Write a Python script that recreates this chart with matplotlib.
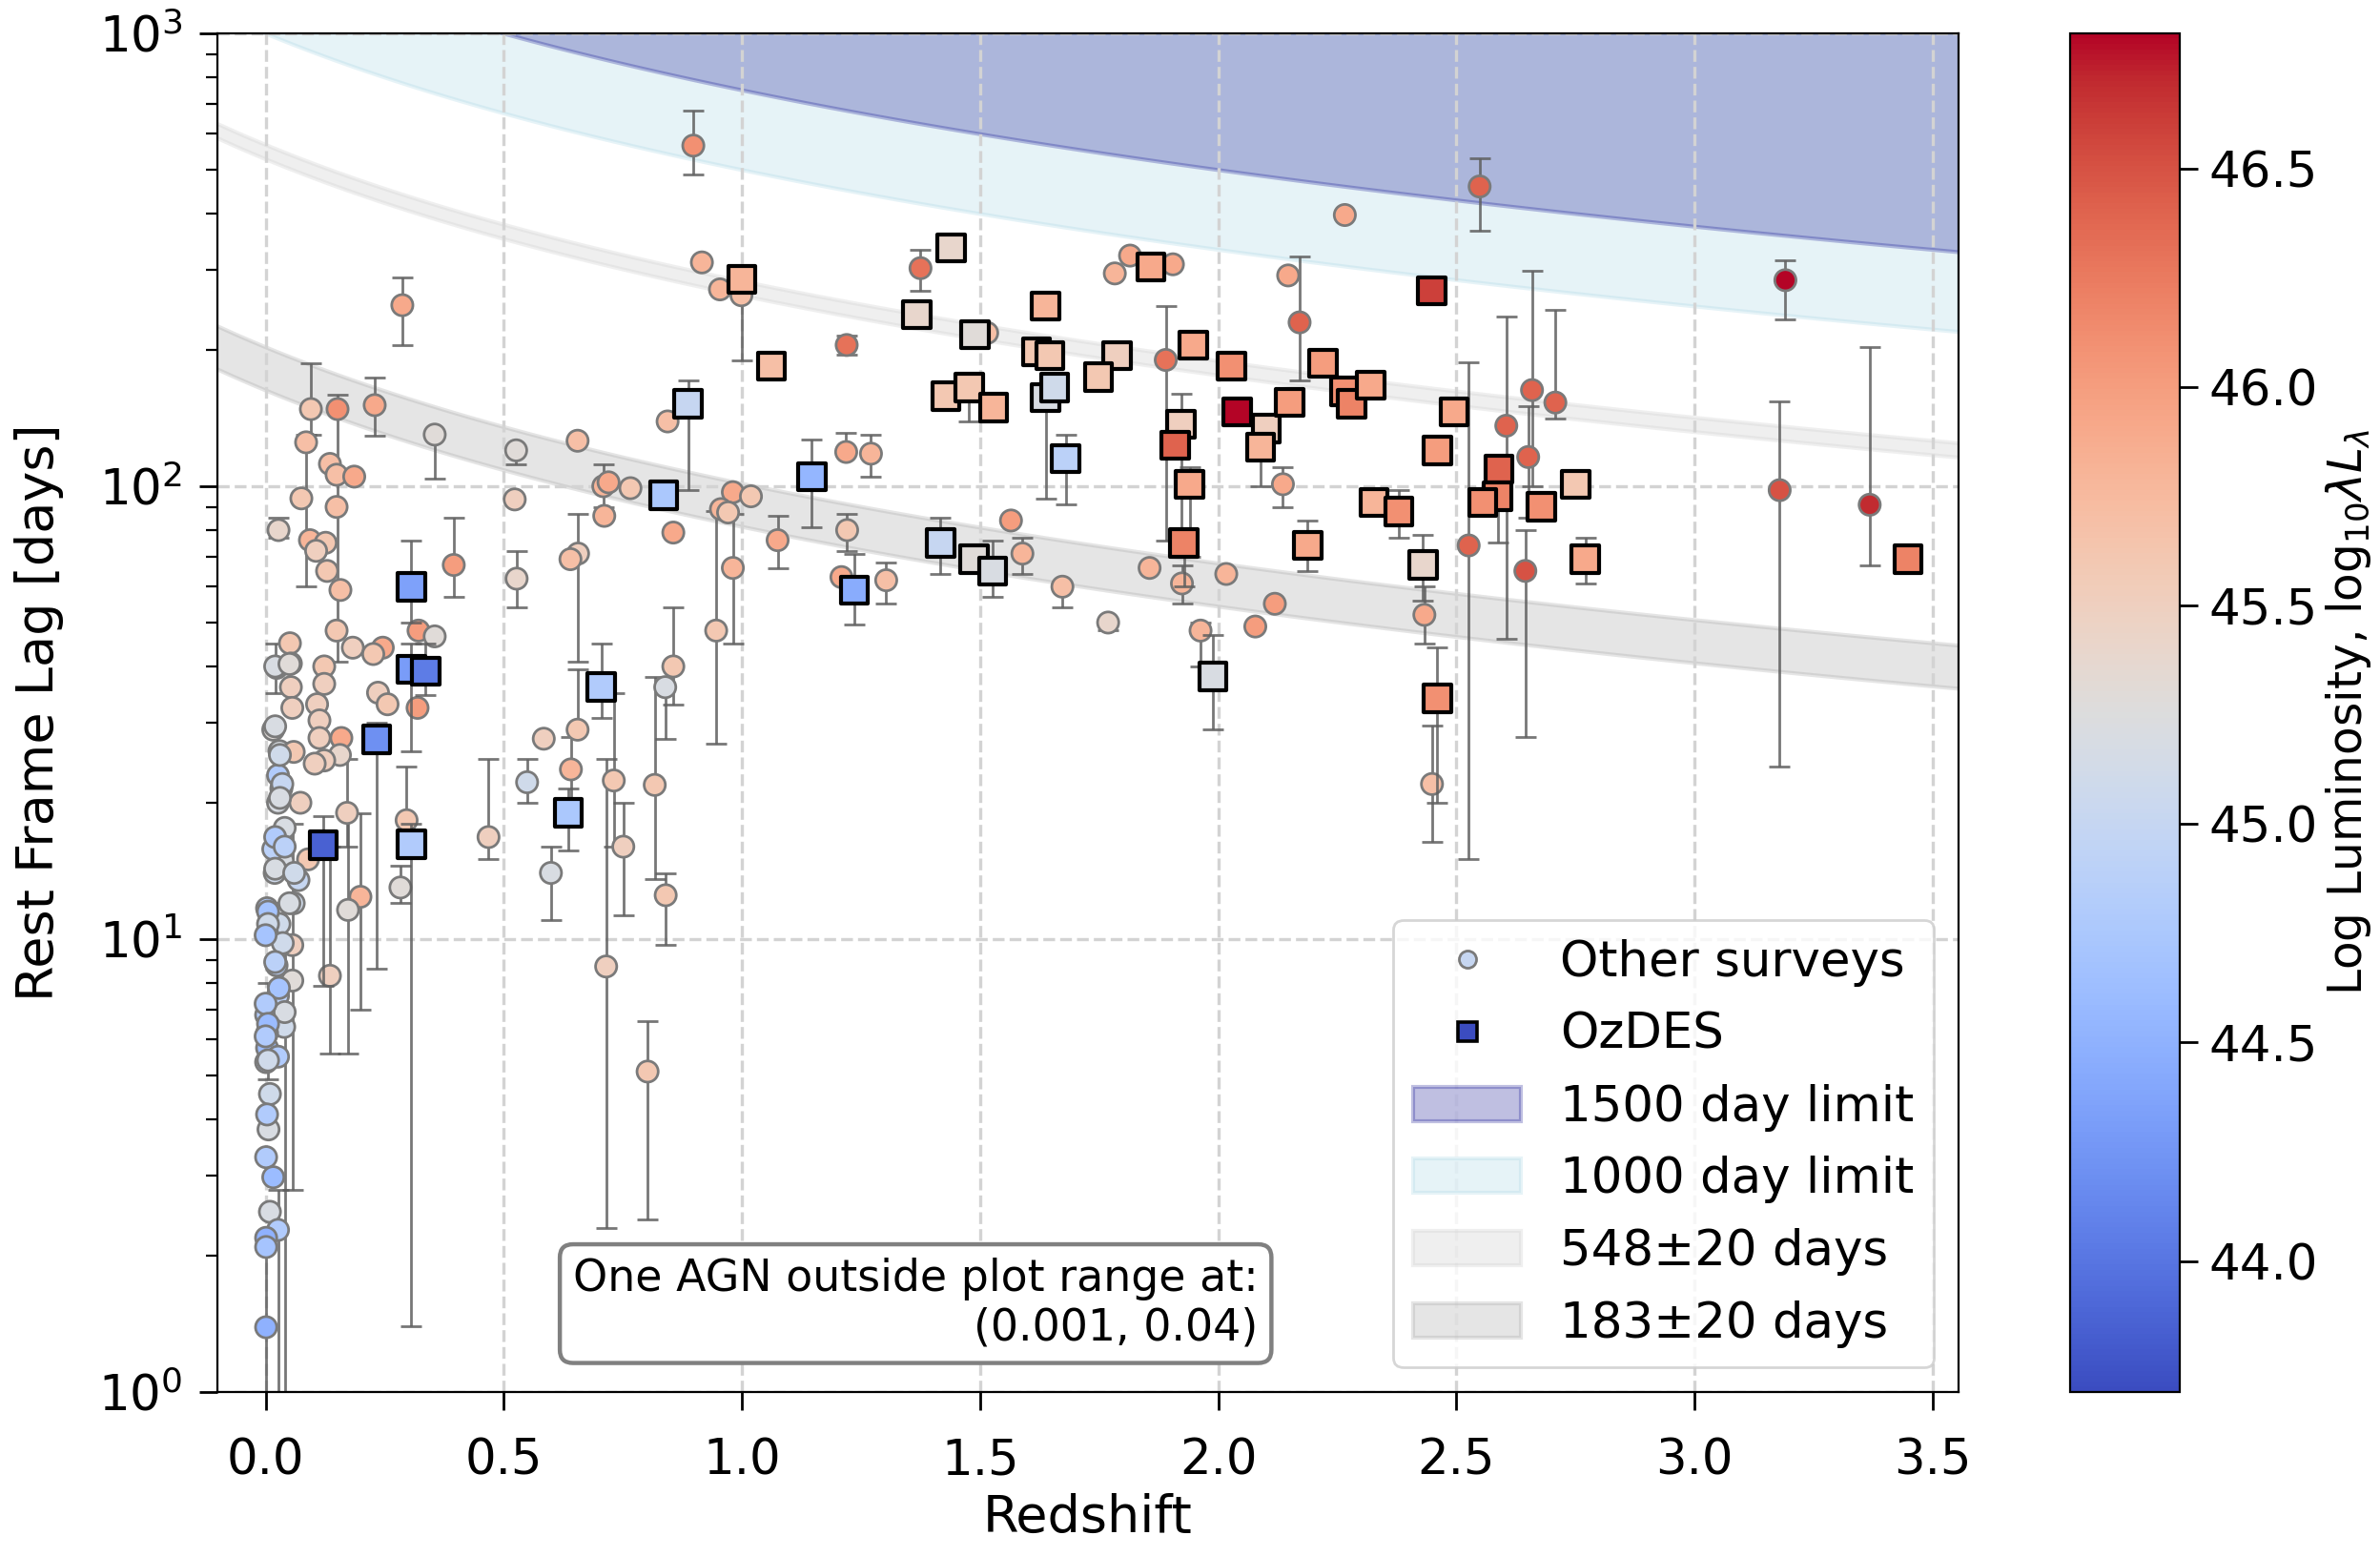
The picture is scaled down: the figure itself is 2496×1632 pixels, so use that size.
import numpy as np
import matplotlib
matplotlib.use("Agg")
import matplotlib.pyplot as plt
from matplotlib.lines import Line2D
from matplotlib.colors import Normalize

# ---------------- data: other surveys ----------------
oth_z = [0.898, 0.916, 0.954, 0.999, 1.220, 1.375, 1.783, 1.815, 1.905, 2.147,
         2.171, 2.266, 2.549, 3.191, 1.890, 2.605, 2.659, 2.651, 2.645, 2.708,
         2.526, 3.179, 3.368, 2.136, 2.433, 1.271, 1.565, 1.589, 1.303, 1.673,
         1.769, 1.856, 1.924, 2.017, 1.963, 2.078, 2.119, 1.515, 2.449, 0.655,
         0.844, 0.709, 0.720, 0.711, 0.766, 0.856, 0.981, 1.019, 0.956, 0.971,
         0.981, 1.075, 1.219, 1.221, 1.209, 0.656, 0.640, 0.946, 0.856, 0.839,
         0.655, 0.584, 0.641, 0.731, 0.817, 0.751, 0.599, 0.549, 0.468, 0.715,
         0.840, 0.802, 0.287, 0.095, 0.151, 0.229, 0.355, 0.526, 0.523, 0.085,
         0.135, 0.149, 0.186, 0.075, 0.149, 0.027, 0.093, 0.126, 0.106, 0.129,
         0.157, 0.395, 0.527, 0.149, 0.183, 0.246, 0.226, 0.321, 0.355, 0.051,
         0.053, 0.023, 0.123, 0.123, 0.053, 0.236, 0.256, 0.319, 0.108, 0.056,
         0.016, 0.029, 0.026, 0.033, 0.059, 0.113, 0.113, 0.159, 0.156, 0.123,
         0.103, 0.073, 0.026, 0.171, 0.296, 0.089, 0.036, 0.016, 0.069, 0.019,
         0.283, 0.199, 0.173, 0.059, 0.003, 0.029, 0.003, 0.056, 0.036, 0.135,
         0.056, 0.023, 0.026, 0.001, 0.039, 0.003, 0.003, 0.026, 0.001, 0.009,
         0.006, 0.003, 0.001, 0.016, 0.009, 0.026, 0.001, 0.001, 0.001,
         0.020, 0.050, 0.020, 0.030, 0.035, 0.030, 0.040, 0.020, 0.040, 0.020,
         0.060, 0.050, 0.005, 0.005, 0.000, 0.020, 0.028, 0.040, 0.000, 0.005,
         0.000, 0.005]
oth_lag = [565, 312, 272, 264, 205, 303, 295, 323, 309, 292,
           230, 397, 459, 285, 190, 136, 163, 116, 65, 153,
           74, 98, 91, 101, 52, 118, 84, 71, 62, 60,
           50, 66, 61, 64, 48, 49, 55, 218, 22, 126,
           139, 100, 102, 86, 99, 79, 97, 95, 89, 87.5,
           66, 76, 119, 80, 63, 71, 69, 48, 40, 36,
           29, 27.7, 23.7, 22.4, 21.9, 16, 14, 22.2, 16.8, 8.7,
           12.5, 5.1, 251, 148, 148, 151, 130, 120, 93.5, 125,
           112, 106, 105, 94, 90, 80, 76, 75, 72, 65,
           59, 67, 62.5, 48, 44, 44, 42.6, 48, 46.6, 45,
           40.6, 39.7, 40, 36.6, 36, 35, 33, 32.4, 33, 32.4,
           29, 26, 23, 21.5, 25.9, 30.4, 27.8, 27.8, 25.5, 24.8,
           24.4, 20, 20, 19, 18.3, 15, 14.9, 15.8, 13.5, 14,
           13, 12.4, 11.6, 12, 11.7, 10.8, 10.3, 9.7, 9.8, 8.3,
           8.1, 8.75, 7.5, 6.8, 6.4, 6.2, 5.75, 5.5, 5.35, 4.55,
           3.8, 4.1, 3.3, 2.98, 2.5, 2.28, 2.19, 2.09, 1.39,
           40, 40.5, 29.5, 25.5, 22, 20.5, 17.6, 16.8, 16, 14.3,
           14, 12, 11.5, 10.8, 10.2, 8.9, 7.8, 6.9, 7.2, 6.5,
           6.1, 5.4]
oth_lo = [488, 312, 272, 190, 195, 270, 295, 323, 309, 292,
          171, 397, 367, 234, 76, 46, 100, 85, 28, 141,
          15, 24, 67, 90, 45, 105, 84, 64, 55, 54,
          48, 66, 55, 64, 40, 49, 55, 218, 16.4, 126,
          139, 90, 102, 86, 99, 79, 97, 95, 89, 87.5,
          45, 66, 119, 72, 63, 41, 69, 27, 33, 27.7,
          29, 27.7, 20, 16, 13.6, 11.3, 11, 20, 15, 2.3,
          9.7, 2.4, 205, 130, 41, 129, 104, 112, 93.5, 60,
          112, 106, 105, 94, 90, 77, 76, 75, 72, 65,
          59, 57, 54, 48, 44, 44, 42.6, 48, 46.6, 45,
          40.6, 39.7, 40, 36.6, 36, 35, 33, 32.4, 33, 32.4,
          29, 26, 23, 21.5, 25.9, 30.4, 27.8, 27.8, 25.5, 24.8,
          24.4, 20, 20, 16, 18.3, 15, 14.9, 15.8, 13.5, 14,
          12, 7, 5.6, 12, 11.7, 10.8, 10.3, 2.8, 9.8, 5.6,
          8.1, 8.75, 7.5, 6.8, 6.4, 6.2, 5.75, 5.5, 5.35, 4.55,
          3.8, 4.1, 3.3, 2.98, 2.5, 0.9, 2.19, 2.09, 0.8,
          35, 40.5, 29.5, 25.5, 22, 20.5, 17.6, 16.8, 16, 14.3,
          14, 12, 11.5, 10.8, 10.2, 8.9, 7.8, 0.8, 7.2, 6.5,
          6.1, 4.9]
oth_hi = [675, 312, 272, 264, 215, 332, 295, 323, 309, 292,
          321, 397, 530, 315, 250, 237, 299, 150, 80, 245,
          188, 154, 203, 110, 60, 130, 84, 77, 68, 60,
          50, 66, 67, 64, 50, 49, 55, 218, 29.6, 126,
          139, 112, 102, 86, 99, 79, 97, 95, 89, 87.5,
          87, 86, 131, 87, 63, 87, 69, 88, 54, 36,
          39.5, 27.7, 28, 35, 38, 20, 16, 25, 25, 25,
          14, 6.6, 289, 187, 159, 174, 130, 120, 93.5, 130,
          112, 106, 105, 94, 90, 85, 76, 75, 72, 65,
          59, 85, 72, 48, 44, 44, 42.6, 48, 46.6, 45,
          40.6, 39.7, 40, 36.6, 36, 35, 33, 32.4, 33, 32.4,
          29, 26, 23, 21.5, 25.9, 30.4, 27.8, 27.8, 25.5, 24.8,
          24.4, 20, 20, 25, 24, 15, 14.9, 15.8, 13.5, 14,
          14.5, 19, 19, 12, 11.7, 10.8, 10.3, 18, 9.8, 16,
          8.1, 8.75, 7.5, 6.8, 6.4, 6.2, 5.75, 5.5, 5.35, 4.55,
          3.8, 4.1, 3.3, 2.98, 2.5, 2.8, 2.19, 2.09, 2.1,
          45, 40.5, 29.5, 25.5, 22, 20.5, 17.6, 16.8, 16, 14.3,
          14, 12, 11.5, 10.8, 10.2, 8.9, 7.8, 12, 7.2, 6.5,
          6.1, 8]
oth_L = [46.1, 45.8, 45.8, 45.7, 46.3, 46.3, 45.8, 45.9, 45.9, 45.9,
         46.4, 45.9, 46.4, 46.8, 46.3, 46.4, 46.4, 46.4, 46.5, 46.4,
         46.4, 46.5, 46.7, 45.9, 45.9, 45.8, 46.0, 45.8, 45.7, 45.7,
         45.4, 45.8, 45.8, 45.8, 45.8, 46.0, 46.0, 45.7, 45.7, 45.7,
         45.7, 45.8, 45.9, 45.8, 45.6, 45.9, 45.9, 45.6, 45.8, 45.6,
         45.8, 45.9, 45.9, 45.6, 45.9, 45.5, 45.7, 45.6, 45.6, 45.2,
         45.6, 45.5, 45.8, 45.6, 45.6, 45.5, 45.2, 45.1, 45.5, 45.5,
         45.6, 45.6, 45.9, 45.6, 46.1, 45.9, 45.3, 45.3, 45.5, 45.7,
         45.7, 45.7, 45.9, 45.6, 45.7, 45.4, 45.8, 45.6, 45.5, 45.6,
         45.7, 46.0, 45.4, 45.6, 45.5, 45.9, 45.6, 46.0, 45.3, 45.6,
         45.2, 45.3, 45.6, 45.5, 45.5, 45.5, 45.6, 46.0, 45.5, 45.5,
         45.3, 45.2, 44.8, 45.2, 45.6, 45.5, 45.5, 45.9, 45.4, 45.5,
         45.5, 45.5, 45.2, 45.5, 45.6, 45.6, 45.2, 44.9, 45.0, 45.1,
         45.3, 45.8, 45.3, 45.1, 44.8, 45.1, 44.8, 45.5, 45.1, 45.5,
         45.3, 44.9, 44.9, 44.8, 45.1, 44.8, 44.6, 44.8, 44.8, 45.1,
         45.2, 44.8, 44.8, 44.6, 45.2, 44.8, 44.5, 44.7, 44.5,
         45.2, 45.3, 45.2, 45.1, 45.0, 45.2, 45.2, 44.8, 44.9, 45.2,
         45.1, 45.2, 44.7, 45.1, 44.7, 44.9, 44.7, 45.2, 44.8, 44.6,
         44.8, 45.1]

# ---------------- data: OzDES ----------------
oz_z = [0.121, 0.233, 0.306, 0.306, 0.336, 0.306, 0.635, 0.705, 0.836, 0.887,
        1.000, 1.062, 1.147, 1.236, 1.417, 1.487, 1.526, 1.439, 1.367, 1.489,
        1.638, 1.859, 1.619, 1.647, 1.788, 1.749, 1.428, 1.477, 1.528, 1.638,
        1.657, 1.680, 1.948, 2.028, 2.040, 2.101, 2.089, 2.150, 1.922, 1.910,
        1.940, 1.928, 2.220, 2.265, 2.280, 2.320, 2.188, 2.448, 2.495, 2.460,
        2.590, 2.587, 2.556, 2.679, 2.751, 2.327, 2.379, 2.771, 3.449, 2.430,
        1.989, 2.460]
oz_lag = [16.1, 27.6, 60, 39.4, 39, 16.2, 19, 36, 95.5, 152,
          286, 184, 105, 59, 75, 69, 65, 336, 239, 216,
          250, 305, 198, 194, 194, 174, 158, 165, 149, 157,
          165, 115, 205, 184, 146, 134, 122, 153, 137, 123,
          101, 75, 187, 162, 152, 167, 74, 270, 146, 120,
          109, 95, 92, 90, 101, 92, 88, 69, 69, 67,
          38, 34]
oz_lo = [7.9, 8.6, 50, 26, 34.6, 1.4, 15.7, 30.8, 90, 98,
         281, 180, 81, 49.5, 64, 69, 57, 336, 235, 216,
         245, 305, 198, 194, 194, 162, 158, 139, 149, 94,
         165, 91, 205, 184, 146, 134, 100, 153, 75, 123,
         70, 60, 187, 162, 152, 160, 65, 270, 146, 115,
         100, 75, 92, 90, 101, 92, 77, 61, 69, 56,
         29, 20]
oz_hi = [18.7, 30, 76, 45, 45, 18, 21.5, 44.9, 100, 171,
         290, 188, 127, 71, 85, 69, 76, 336, 242, 216,
         255, 305, 198, 194, 194, 180, 158, 170, 149, 157,
         165, 130, 205, 184, 146, 134, 130, 153, 160, 123,
         110, 80, 187, 162, 152, 175, 84, 270, 146, 122,
         115, 100, 92, 90, 101, 92, 98, 77, 69, 78,
         47, 44]
oz_L = [43.85, 44.2, 44.35, 44.3, 44.05, 44.8, 44.75, 44.8, 44.75, 45.0,
        45.8, 45.7, 44.55, 44.45, 45.0, 45.3, 45.2, 45.4, 45.4, 45.3,
        45.8, 45.9, 45.6, 45.6, 45.5, 45.6, 45.6, 45.6, 45.8, 45.2,
        45.1, 44.9, 45.9, 46.1, 46.8, 45.5, 45.8, 46.0, 45.5, 46.4,
        45.9, 46.2, 46.0, 46.1, 46.2, 45.9, 45.9, 46.6, 45.9, 46.0,
        46.4, 46.2, 46.1, 46.1, 45.6, 45.8, 46.1, 45.9, 46.2, 45.4,
        45.2, 46.1]

# survey limits (observed-frame days) and cadence bands
limit_days = [1500, 1000]
season_days = [548, 183]
season_err = 20
lum_range = (43.70, 46.81)

# ---------------- figure ----------------
fig = plt.figure(figsize=(12.48, 8.16), dpi=200)
ax = fig.add_axes([0.0912, 0.1054, 0.7316, 0.8732])
cax = fig.add_axes([0.8698, 0.1054, 0.0461, 0.8732])

cmap = plt.get_cmap("coolwarm")
norm = Normalize(*lum_range)

zc = np.linspace(-0.15, 3.6, 500)
f1500 = ax.fill_between(zc, limit_days[0] / (1 + zc), 1e4, color="darkblue",
                        alpha=0.25, lw=1.5, zorder=0.4)
f1000 = ax.fill_between(zc, limit_days[1] / (1 + zc), 1e4, color="lightblue",
                        alpha=0.3, lw=1.5, zorder=0.3)
f548 = ax.fill_between(zc, (season_days[0] - season_err) / (1 + zc),
                       (season_days[0] + season_err) / (1 + zc),
                       color="lightgrey", alpha=0.35, lw=1.5, zorder=0.3)
f183 = ax.fill_between(zc, (season_days[1] - season_err) / (1 + zc),
                       (season_days[1] + season_err) / (1 + zc),
                       color="darkgrey", alpha=0.3, lw=1.5, zorder=0.3)

arr = np.array
ol = arr(oth_lag)
ax.errorbar(oth_z, ol, yerr=[ol - arr(oth_lo), arr(oth_hi) - ol], fmt="none",
            ecolor="#5f5f5f", elinewidth=1.0, capsize=4, capthick=1.0,
            alpha=0.85, zorder=2)
ax.scatter(oth_z, oth_lag, c=oth_L, cmap=cmap, norm=norm, s=64, marker="o",
           edgecolors="#7a7a7a", linewidths=1.0, zorder=3)

dl = arr(oz_lag)
ax.errorbar(oz_z, dl, yerr=[dl - arr(oz_lo), arr(oz_hi) - dl], fmt="none",
            ecolor="#5f5f5f", elinewidth=1.0, capsize=4, capthick=1.0,
            alpha=0.85, zorder=4)
ax.scatter(oz_z, oz_lag, c=oz_L, cmap=cmap, norm=norm, s=105, marker="s",
           edgecolors="black", linewidths=1.5, zorder=5)

ax.set_yscale("log")
ax.set_xlim(-0.102, 3.554)
ax.set_ylim(1, 1000)
ax.set_xticks([0.0, 0.5, 1.0, 1.5, 2.0, 2.5, 3.0, 3.5])
ax.grid(True, which="major", ls="--", color="lightgrey", lw=1.2)
ax.tick_params(which="major", length=7, width=1.0, labelsize=18.5)
ax.tick_params(which="minor", length=4.5, width=0.8)
ax.tick_params(axis="x", which="major", pad=10)
ax.tick_params(axis="y", which="major", pad=6)
ax.set_xlabel("Redshift", fontsize=19.5, labelpad=3)
ax.set_ylabel("Rest Frame Lag [days]", fontsize=19.5, labelpad=13)

h_other = Line2D([], [], ls="", marker="o", ms=6.5, mfc=cmap(0.42),
                 mec="#7a7a7a", mew=1.0)
h_oz = Line2D([], [], ls="", marker="s", ms=7.5, mfc=cmap(0.0),
              mec="black", mew=1.3)
ax.legend([h_other, h_oz, f1500, f1000, f548, f183],
          ["Other surveys", "OzDES", "1500 day limit", "1000 day limit",
           "548\u00b120 days", "183\u00b120 days"],
          loc="lower right", fontsize=18.5, handlelength=2.2)

ax.text(0.598, 0.031, "One AGN outside plot range at:\n(0.001, 0.04)",
        transform=ax.transAxes, ha="right", va="bottom", multialignment="right",
        fontsize=16.5, zorder=6,
        bbox=dict(boxstyle="round,pad=0.3", fc="white", ec="grey", lw=1.6))

sm = plt.cm.ScalarMappable(norm=norm, cmap=cmap)
cb = fig.colorbar(sm, cax=cax)
cb.set_ticks([44.0, 44.5, 45.0, 45.5, 46.0, 46.5])
cb.ax.tick_params(length=7, width=1.0, labelsize=18.5, pad=4)
cb.set_label(r"Log Luminosity, log$_{10}\lambda L_\lambda$", fontsize=17.5,
             labelpad=2)

fig.savefig("out.png", dpi=200)
